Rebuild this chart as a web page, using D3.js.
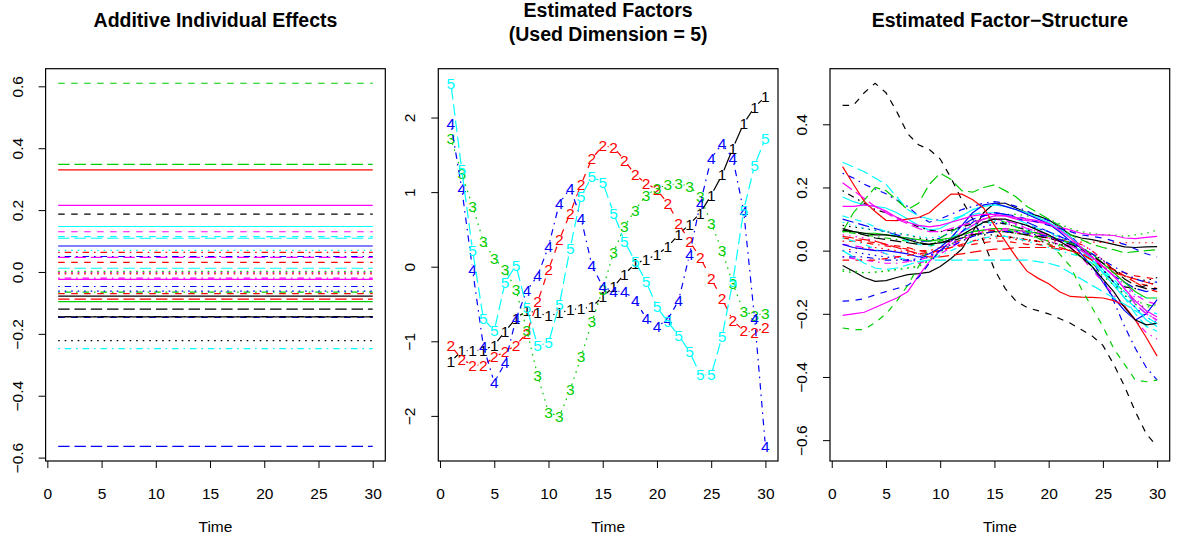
<!DOCTYPE html>
<html><head><meta charset="utf-8">
<script src="https://cdn.jsdelivr.net/npm/d3@7"></script>
<style>
body{margin:0;background:#fff}
svg{display:block}
text{font-family:"Liberation Sans",Arial,Helvetica,sans-serif;fill:#000}
</style>
</head><body>
<svg id="chart" width="1177" height="545"></svg>
<script>
// ---------------- DATA ----------------
const timePoints = [1,2,3,4,5,6,7,8,9,10,11,12,13,14,15,16,17,18,19,20,21,22,23,24,25,26,27,28,29,30];
const xTicks = [0,5,10,15,20,25,30];
const effectTicks = [-0.6,-0.4,-0.2,0.0,0.2,0.4,0.6];
const factorTicks = [-2,-1,0,1,2];
const structureTicks = [-0.6,-0.4,-0.2,0.0,0.2,0.4];

// additive individual effects (one constant per individual)
const individualEffects = [-0.078,0.031,-0.003,-0.047,0.109,0.215,0.187,-0.006,-0.065,-0.564,
  0.147,0.130,-0.222,0.063,0.348,0.084,0.114,-0.001,-0.144,-0.088,
  -0.096,-0.147,0.070,-0.020,-0.120,0.330,0.610,-0.062,-0.248,0.047,
  -0.145,-0.070,0.002,0.050,0.012,-0.024];

// estimated factors
const factor1 = [-1.27,-1.13,-1.12,-1.12,-1.05,-0.87,-0.69,-0.59,-0.62,-0.66,-0.62,-0.58,-0.56,-0.54,-0.40,-0.27,-0.10,0.04,0.10,0.16,0.27,0.43,0.57,0.72,0.96,1.23,1.59,1.92,2.14,2.28];
const factor2 = [-1.06,-1.24,-1.32,-1.32,-1.21,-1.14,-1.05,-0.89,-0.47,-0.04,0.36,0.72,1.10,1.45,1.62,1.60,1.43,1.23,1.12,1.03,0.85,0.58,0.34,0.12,-0.16,-0.43,-0.72,-0.86,-0.88,-0.81];
const factor3 = [1.72,1.25,0.81,0.34,0.11,-0.04,-0.31,-0.85,-1.46,-1.95,-2.01,-1.65,-1.21,-0.74,-0.30,0.19,0.54,0.76,0.96,1.05,1.10,1.11,1.08,0.94,0.58,0.22,-0.23,-0.60,-0.65,-0.63];
const factor4 = [1.92,1.05,-0.04,-1.07,-1.55,-1.29,-0.70,-0.32,-0.12,0.27,0.85,1.05,0.65,0.02,-0.27,-0.33,-0.33,-0.45,-0.69,-0.80,-0.71,-0.45,0.16,0.85,1.45,1.65,1.45,0.74,-0.69,-2.41];
const factor5 = [2.46,1.30,0.22,-0.70,-0.86,-0.21,0.02,-0.55,-1.06,-1.02,-0.51,0.25,0.94,1.21,1.13,0.72,0.34,0.07,-0.20,-0.54,-0.74,-0.92,-1.14,-1.45,-1.45,-0.94,-0.20,0.76,1.36,1.72];
const factorLabels = ["1","2","3","4","5"];

// estimated factor-structure (one row per individual, values over time)
const factorStructure = [
 [-.047,-.065,-.085,-.097,-.095,-.085,-.076,-.073,-.068,-.05,-.025,.005,.06,.12,.15,.15,.135,.12,.11,.098,.075,.05,.04,.035,.028,.02,.012,.01,.012,.013],
 [.04,.035,.03,.025,.02,.015,.01,0,-.005,0,.01,.02,.03,.04,.045,.045,.04,.035,.03,.02,.01,0,-.01,-.02,-.04,-.06,-.08,-.1,-.11,-.12],
 [-.06,-.065,-.07,-.068,-.065,-.06,-.055,-.05,-.03,0,.03,.06,.08,.1,.11,.115,.115,.11,.105,.1,.085,.07,.06,.055,.05,.05,.045,.05,.055,.065],
 [.245,.23,.21,.195,.18,.16,.14,.11,.09,.1,.115,.13,.14,.15,.155,.15,.14,.125,.11,.095,.08,.05,.01,-.03,-.09,-.16,-.24,-.31,-.37,-.41],
 [.28,.265,.25,.23,.21,.17,.13,.11,.1,.095,.1,.11,.115,.12,.12,.115,.1,.085,.07,.06,.04,.02,0,-.03,-.06,-.1,-.15,-.2,-.24,-.255],
 [-.205,-.2,-.195,-.18,-.165,-.15,-.13,-.08,-.035,0,.03,.06,.08,.1,.11,.11,.1,.095,.09,.085,.075,.065,.055,.05,.05,.048,.04,.038,.042,.045],
 [.46,.46,.50,.53,.50,.44,.37,.335,.32,.29,.23,.16,.10,.03,-.06,-.12,-.16,-.18,-.19,-.20,-.215,-.23,-.25,-.27,-.30,-.36,-.43,-.51,-.58,-.62],
 [0,.005,.01,.01,.005,0,-.005,-.01,-.01,0,.01,.02,.03,.035,.04,.04,.035,.03,.03,.03,.03,.028,.027,.027,.026,.026,.025,.025,.025,.025],
 [.06,.055,.05,.045,.04,.035,.03,.025,.02,.03,.04,.05,.06,.065,.07,.065,.06,.05,.04,.03,.02,0,-.02,-.04,-.07,-.1,-.13,-.16,-.17,-.18],
 [.1,.09,.08,.07,.06,.05,.04,.03,.03,.04,.06,.08,.1,.11,.12,.115,.105,.09,.075,.06,.045,.03,.01,-.02,-.05,-.08,-.1,-.12,-.13,-.12],
 [.17,.155,.145,.14,.135,.12,.1,.08,.065,.07,.09,.11,.13,.14,.145,.14,.13,.12,.105,.09,.07,.045,.01,-.03,-.07,-.11,-.15,-.18,-.22,-.24],
 [.02,.015,.01,0,-.01,-.02,-.03,-.04,-.03,-.01,.01,.03,.05,.06,.065,.065,.06,.05,.04,.03,.02,.01,0,-.02,-.04,-.07,-.1,-.14,-.16,-.17],
 [.08,.075,.07,.065,.06,.055,.05,.04,.035,.035,.04,.045,.05,.05,.05,.045,.04,.035,.03,.025,.02,.015,.005,-.01,-.03,-.06,-.08,-.09,-.095,-.085],
 [.03,.03,.025,.02,.015,.01,.005,0,0,.01,.02,.035,.05,.06,.065,.06,.055,.05,.045,.04,.035,.03,.02,0,-.03,-.06,-.08,-.1,-.12,-.13],
 [.06,.12,.16,.2,.19,.16,.13,.15,.21,.245,.225,.19,.185,.2,.208,.19,.17,.14,.12,.1,.08,.05,.035,.02,.01,.003,-.007,-.003,0,.003],
 [.02,.01,.005,0,0,-.005,-.01,-.02,-.01,.01,.04,.08,.12,.145,.15,.14,.13,.115,.1,.085,.06,.03,-.01,-.05,-.1,-.15,-.19,-.22,-.2,-.155],
 [.11,.1,.09,.075,.06,.045,.03,.02,.015,.02,.04,.06,.075,.085,.09,.085,.075,.065,.055,.045,.035,.02,0,-.03,-.06,-.09,-.13,-.16,-.19,-.2],
 [.05,.045,.04,.03,.02,.01,0,-.01,-.01,0,.02,.04,.06,.075,.085,.085,.08,.07,.06,.05,.04,.03,.02,0,-.03,-.07,-.11,-.15,-.19,-.23],
 [.19,.17,.15,.13,.12,.105,.09,.075,.065,.06,.065,.075,.085,.09,.09,.085,.075,.065,.055,.045,.035,.025,.01,-.02,-.06,-.1,-.115,-.12,-.11,-.1],
 [.045,.04,.035,.03,.02,.01,0,-.01,-.02,-.02,-.015,-.01,-.005,0,.005,.005,.01,.01,.01,.01,.005,0,-.01,-.03,-.05,-.07,-.08,-.09,-.1,-.11],
 [.06,.06,.055,.055,.05,.045,.04,.035,.03,.035,.04,.05,.06,.065,.07,.07,.065,.06,.055,.045,.035,.025,.01,-.01,-.04,-.07,-.1,-.13,-.15,-.15],
 [-.16,-.158,-.152,-.14,-.13,-.12,-.11,-.085,-.04,0,.03,.06,.09,.11,.12,.115,.11,.1,.09,.08,.07,.06,.05,.045,.04,.03,.02,.005,-.01,-.02],
 [.09,.08,.07,.065,.06,.055,.05,.045,.04,.045,.055,.07,.08,.09,.095,.095,.09,.08,.07,.06,.045,.03,.01,-.02,-.05,-.08,-.11,-.14,-.15,-.15],
 [-.02,-.025,-.03,-.035,-.04,-.04,-.035,-.03,-.02,0,.02,.04,.055,.065,.07,.07,.065,.06,.05,.04,.03,.01,-.02,-.06,-.1,-.14,-.18,-.22,-.26,-.28],
 [.07,.06,.05,.04,.035,.03,.025,.02,.02,.025,.03,.04,.05,.055,.06,.06,.055,.05,.045,.04,.03,.02,.005,-.015,-.04,-.06,-.09,-.11,-.12,-.12],
 [.266,.21,.156,.124,.096,.095,.1,.105,.12,.15,.179,.179,.161,.135,.08,.03,-.02,-.065,-.087,-.105,-.13,-.145,-.147,-.148,-.15,-.158,-.175,-.22,-.275,-.334],
 [-.245,-.25,-.25,-.228,-.2,-.16,-.11,-.05,.01,.04,.06,.08,.09,.1,.1,.09,.075,.06,.04,.02,-.01,-.05,-.12,-.18,-.24,-.31,-.36,-.41,-.415,-.41],
 [0,-.005,-.01,-.015,-.02,-.025,-.03,-.03,-.02,0,.02,.04,.06,.075,.085,.09,.085,.08,.07,.06,.045,.03,.01,-.02,-.06,-.1,-.14,-.18,-.21,-.23],
 [.04,.03,.02,.005,-.01,-.02,-.03,-.035,-.03,-.015,0,.015,.03,.04,.045,.045,.04,.03,.02,.01,0,-.01,-.02,-.04,-.07,-.1,-.13,-.17,-.2,-.22],
 [.215,.19,.165,.14,.12,.1,.085,.07,.06,.06,.07,.08,.09,.1,.1,.095,.085,.07,.06,.045,.03,.015,0,-.02,-.05,-.08,-.12,-.17,-.2,-.22],
 [.065,.06,.055,.05,.05,.045,.035,.025,.02,.025,.035,.05,.07,.09,.1,.1,.09,.08,.065,.05,.03,.01,-.02,-.05,-.09,-.13,-.18,-.22,-.235,-.23],
 [-.03,-.03,-.03,-.03,-.025,-.02,-.015,-.01,-.005,0,.01,.015,.02,.025,.03,.03,.025,.02,.02,.015,.01,0,-.01,-.03,-.05,-.06,-.07,-.08,-.085,-.09],
 [-.065,-.07,-.07,-.068,-.065,-.06,-.055,-.05,-.03,-.005,.02,.04,.05,.055,.06,.06,.055,.05,.04,.03,.015,0,-.02,-.05,-.08,-.11,-.14,-.17,-.18,-.17],
 [-.02,-.02,-.02,-.025,-.03,-.03,-.03,-.025,-.015,0,.015,.03,.045,.055,.06,.06,.06,.055,.05,.045,.035,.025,.01,-.01,-.03,-.05,-.07,-.09,-.1,-.1],
 [0,-.02,-.04,-.055,-.06,-.055,-.045,-.035,-.03,-.03,-.03,-.03,-.03,-.03,-.03,-.03,-.03,-.03,-.035,-.04,-.05,-.07,-.09,-.11,-.13,-.15,-.17,-.19,-.21,-.23],
 [.14,.14,.145,.14,.125,.105,.09,.08,.075,.08,.09,.1,.11,.115,.115,.11,.105,.1,.095,.085,.065,.04,.01,-.02,-.05,-.08,-.12,-.16,-.19,-.21]
];

// ---------------- STYLE ----------------
const palette = ["#000000","#FF0000","#00CD00","#0000FF","#00FFFF","#FF00FF"];
const dashes = [null, "6.5,6.5", "1.6,4.9", "1.6,4.9,6.5,4.9", "11.4,4.9"];
const colorOf = i => palette[i % palette.length];
const dashOf = i => dashes[i % dashes.length];
const LW = 1.2;

const svg = d3.select("#chart");
const TOP = 68.7, BOTTOM = 461, PW = 339.7;
const lefts = [45.6, 438.3, 830.0];

function padded(ext){ const r = ext[1]-ext[0]; return [ext[0]-0.04*r, ext[1]+0.04*r]; }

function frame(left, yValues, yTicks, titles){
  const x = d3.scaleLinear().domain(padded(d3.extent(timePoints))).range([left, left+PW]);
  const y = d3.scaleLinear().domain(padded(d3.extent(yValues))).range([BOTTOM, TOP]);
  const g = svg.append("g");
  const xa = g.append("g").attr("transform",`translate(0,${BOTTOM})`)
    .call(d3.axisBottom(x).tickValues(xTicks).tickSize(7).tickPadding(20).tickFormat(d3.format("d")));
  xa.select(".domain").remove();
  xa.selectAll("line").attr("stroke","#000").attr("stroke-width",1);
  xa.selectAll("text").attr("font-size","15.5px").attr("fill","#000").style("font-family",'"Liberation Sans",Arial,sans-serif');
  const intTicks = yTicks.every(Number.isInteger);
  const fmt = v => (v<0?"\u2212":"") + Math.abs(v).toFixed(intTicks?0:1);
  const ya = g.append("g").attr("transform",`translate(${left},0)`)
    .call(d3.axisLeft(y).tickValues(yTicks).tickSize(7).tickFormat(fmt));
  ya.select(".domain").remove();
  ya.selectAll("line").attr("stroke","#000").attr("stroke-width",1);
  ya.selectAll("text").attr("transform","rotate(-90)").attr("x",0).attr("y",-23).attr("dy",null)
    .attr("text-anchor","middle").attr("font-size","15.5px").attr("fill","#000")
    .style("font-family",'"Liberation Sans",Arial,sans-serif');
  g.append("text").attr("x", left+PW/2).attr("y", 532).attr("text-anchor","middle")
    .attr("font-size","15.5px").text("Time");
  titles.forEach(t => g.append("text").attr("x", left+PW/2).attr("y", t.y).attr("text-anchor","middle")
    .attr("font-size","19.5px").attr("font-weight","bold").text(t.text));
  const plot = svg.append("g");
  return {x, y, plot, boxDraw: () => svg.append("rect").attr("x",left).attr("y",TOP).attr("width",PW).attr("height",BOTTOM-TOP)
      .attr("fill","none").attr("stroke","#000").attr("stroke-width",1.2)};
}

// Panel 1: additive individual effects
{
  const f = frame(lefts[0], individualEffects, effectTicks, [{text:"Additive Individual Effects", y:27}]);
  const line = d3.line().x(d=>f.x(d[0])).y(d=>f.y(d[1]));
  individualEffects.forEach((v,i)=>{
    f.plot.append("path").datum(timePoints.map(t=>[t,v])).attr("d",line)
      .attr("fill","none").attr("stroke",colorOf(i)).attr("stroke-width",LW)
      .attr("stroke-dasharray",dashOf(i));
  });
  f.boxDraw();
}

// Panel 2: estimated factors (type "b" with digit symbols)
{
  const factors = [factor1,factor2,factor3,factor4,factor5];
  const f = frame(lefts[1], factors.flat(), factorTicks,
    [{text:"Estimated Factors", y:17}, {text:"(Used Dimension = 5)", y:41}]);
  const gap = 5;
  factors.forEach((vals,i)=>{
    const pts = vals.map((v,k)=>[f.x(timePoints[k]), f.y(v)]);
    let d = "";
    for(let k=0;k<pts.length-1;k++){
      const [x0,y0]=pts[k],[x1,y1]=pts[k+1];
      const dx=x1-x0, dy=y1-y0, len=Math.hypot(dx,dy);
      if(len>2*gap){
        const ux=dx/len, uy=dy/len;
        d += `M${x0+ux*gap},${y0+uy*gap}L${x1-ux*gap},${y1-uy*gap}`;
      }
    }
    f.plot.append("path").attr("d",d).attr("fill","none").attr("stroke",colorOf(i))
      .attr("stroke-width",LW).attr("stroke-dasharray",dashOf(i));
    f.plot.selectAll(null).data(vals).enter().append("text")
      .attr("x",(v,k)=>f.x(timePoints[k])).attr("y",v=>f.y(v))
      .attr("text-anchor","middle").attr("dominant-baseline","central")
      .attr("font-size","15.5px").style("fill",colorOf(i)).text(factorLabels[i]);
  });
  f.boxDraw();
}

// Panel 3: estimated factor-structure
{
  const f = frame(lefts[2], factorStructure.flat(), structureTicks, [{text:"Estimated Factor\u2212Structure", y:27}]);
  const line = d3.line().x((v,k)=>f.x(timePoints[k])).y(v=>f.y(v));
  factorStructure.forEach((vals,i)=>{
    f.plot.append("path").datum(vals).attr("d",line)
      .attr("fill","none").attr("stroke",colorOf(i)).attr("stroke-width",LW)
      .attr("stroke-dasharray",dashOf(i));
  });
  f.boxDraw();
}
</script>
</body></html>
